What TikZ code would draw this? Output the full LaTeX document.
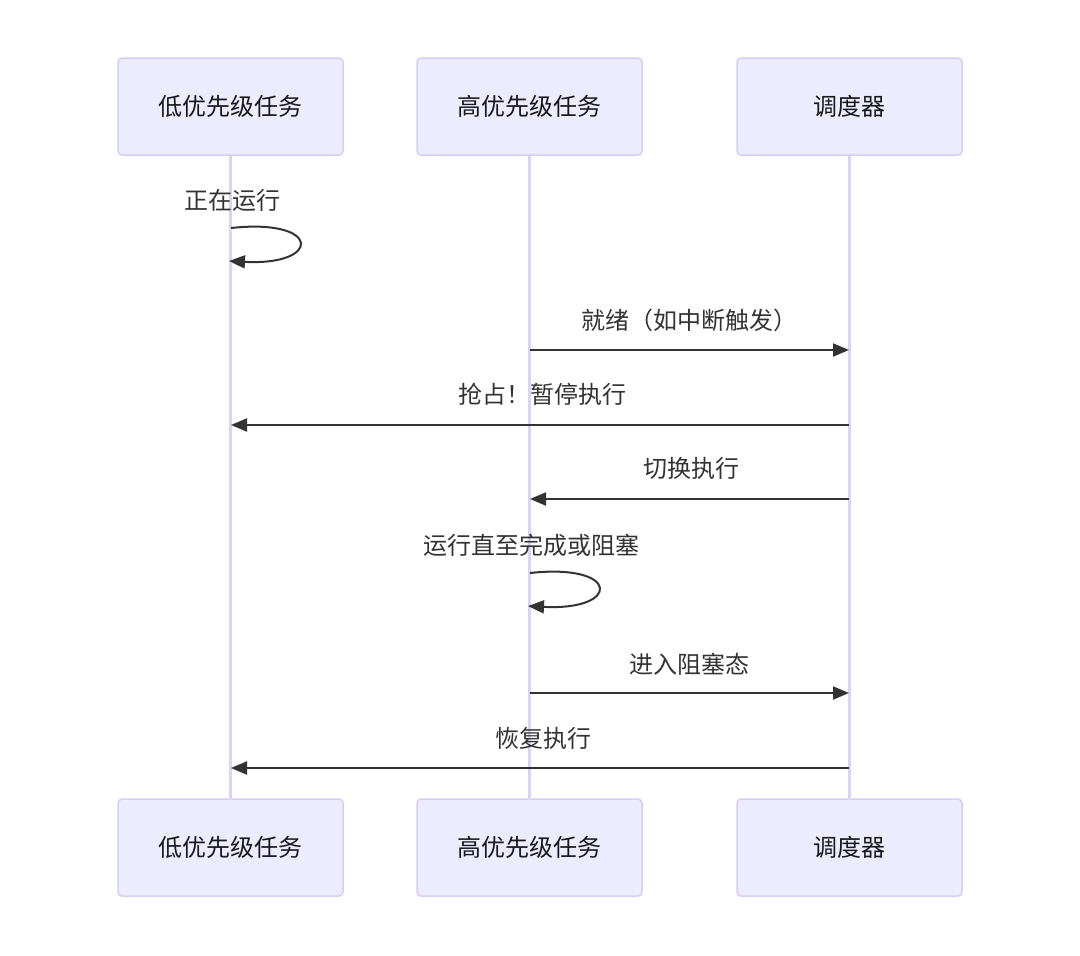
\documentclass[tikz,border=0pt]{standalone}
\usepackage{fontspec}
\setmainfont{Noto Sans CJK SC}
\usetikzlibrary{arrows.meta}
\definecolor{actfill}{HTML}{ECECFF}
\definecolor{actline}{HTML}{D9CDF5}
\definecolor{lifel}{HTML}{DCD2F7}
\definecolor{msg}{HTML}{333333}
\tikzset{
  actor/.style={draw=actline, line width=1.5pt, fill=actfill, rounded corners=4pt,
    minimum width=225pt, minimum height=97pt, inner sep=0pt,
    font=\fontsize{24}{29}\selectfont, text=black!90},
  lifeline/.style={draw=lifel, line width=2.5pt},
  message/.style={draw=msg, line width=2pt, -{Triangle[length=16pt,width=13pt]}},
  msglabel/.style={font=\fontsize{24}{29}\selectfont, text=msg, inner sep=0pt}
}
\begin{document}
\begin{tikzpicture}[x=1pt,y=-1pt]
\useasboundingbox (0,0) rectangle (1080,956);
% actors
\node[actor] (lowT)  at (230.5,106.5) {低优先级任务};
\node[actor] (highT) at (529.5,106.5) {高优先级任务};
\node[actor] (schT)  at (849.5,106.5) {调度器};
\node[actor] (lowB)  at (230.5,847.5) {低优先级任务};
\node[actor] (highB) at (529.5,847.5) {高优先级任务};
\node[actor] (schB)  at (849.5,847.5) {调度器};
% lifelines
\draw[lifeline] (lowT.south) -- (lowB.north);
\draw[lifeline] (highT.south) -- (highB.north);
\draw[lifeline] (schT.south) -- (schB.north);
% coordinates on lifelines
\coordinate (s1a) at (231,228);
\coordinate (s1b) at (229,261);
\coordinate (m2a) at (530,350);
\coordinate (m2b) at (849,350);
\coordinate (m3a) at (849,425);
\coordinate (m3b) at (231,425);
\coordinate (m4a) at (849,499);
\coordinate (m4b) at (530,499);
\coordinate (s5a) at (530,573);
\coordinate (s5b) at (528,606);
\coordinate (m6a) at (530,693);
\coordinate (m6b) at (849,693);
\coordinate (m7a) at (849,768);
\coordinate (m7b) at (231,768);
% messages
\draw[message] (s1a) .. controls (322,218) and (322,266) .. (s1b);
\node[msglabel] (t1) at (232,200) {正在运行};
\draw[message] (m2a) -- (m2b);
\node[msglabel] (t2) at (689,320) {就绪（如中断触发）};
\draw[message] (m3a) -- (m3b);
\node[msglabel] (t3) at (542,394) {抢占！暂停执行};
\draw[message] (m4a) -- (m4b);
\node[msglabel] (t4) at (691,468) {切换执行};
\draw[message] (s5a) .. controls (621,563) and (621,611) .. (s5b);
\node[msglabel] (t5) at (531,545) {运行直至完成或阻塞};
\draw[message] (m6a) -- (m6b);
\node[msglabel] (t6) at (689,664) {进入阻塞态};
\draw[message] (m7a) -- (m7b);
\node[msglabel] (t7) at (543,738) {恢复执行};
\end{tikzpicture}
\end{document}
